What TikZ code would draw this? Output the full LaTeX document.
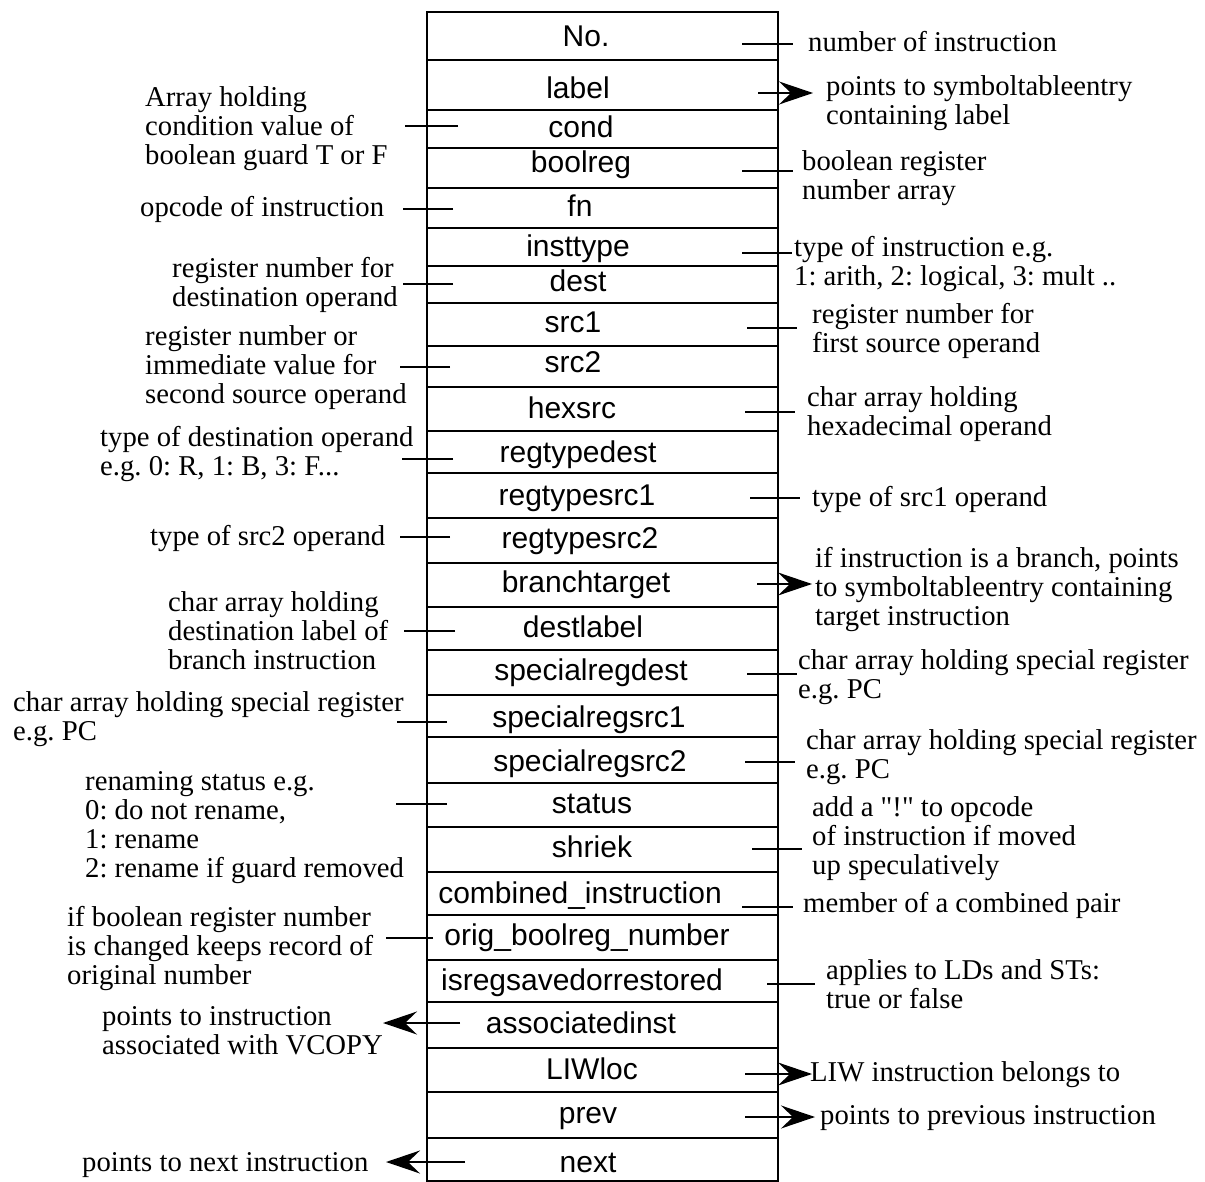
\documentclass[tikz,border=0pt]{standalone}
\usepackage{fontspec}
\setmainfont{Liberation Serif}
\newfontfamily\rawserif{Liberation Serif}[Ligatures=TeXOff]
\newfontfamily\fieldfont{Liberation Sans}
\usetikzlibrary{arrows.meta}
\begin{document}
\frenchspacing
\begin{tikzpicture}[x=1pt,y=-1pt,
  field/.style={font=\fieldfont\fontsize{30}{34}\selectfont, inner sep=0pt, anchor=base},
  note/.style={font=\fontsize{28.7}{29}\selectfont\frenchspacing, align=left, inner sep=0pt, anchor=north west},
  boxline/.style={line width=2pt},
  conn/.style={line width=2pt},
  ptr/.style={line width=2pt, -{Stealth[length=34pt,width=23pt,inset=12pt]}}
]
\useasboundingbox (0,0) rectangle (1205,1182);

% record layout: outer frame and row separators
\draw[boxline] (427,12) rectangle (778,1181);
\foreach \y in {60,110,148,188,228,266,303,346,387,431,473,518,563,607,650,
                695,737,783,827,872,915,960,1002,1048,1092,1138}
  \draw[boxline] (427,\y) -- (778,\y);

% field names
\node[field] (fNo)        at (586,47)   {No.};
\node[field] (fLabel)     at (578,99)   {label};
\node[field] (fCond)      at (581,138)  {cond};
\node[field] (fBoolreg)   at (581,173)  {boolreg};
\node[field] (fFn)        at (580,217)  {fn};
\node[field] (fInsttype)  at (578,257)  {insttype};
\node[field] (fDest)      at (578,292)  {dest};
\node[field] (fSrcA)      at (573,333)  {src1};
\node[field] (fSrcB)      at (573,373)  {src2};
\node[field] (fHexsrc)    at (572,418)  {hexsrc};
\node[field] (fRtDest)    at (578,462)  {regtypedest};
\node[field] (fRtSrcA)    at (577,505)  {regtypesrc1};
\node[field] (fRtSrcB)    at (580,548)  {regtypesrc2};
\node[field] (fBranch)    at (586,592)  {branchtarget};
\node[field] (fDestlabel) at (583,637)  {destlabel};
\node[field] (fSpDest)    at (591,680)  {specialregdest};
\node[field] (fSpSrcA)    at (589,727)  {specialregsrc1};
\node[field] (fSpSrcB)    at (590,771)  {specialregsrc2};
\node[field] (fStatus)    at (592,813)  {status};
\node[field] (fShriek)    at (592,857)  {shriek};
\node[field] (fCombined)  at (580,903)  {combined\_instruction};
\node[field] (fOrig)      at (587,945)  {orig\_boolreg\_number};
\node[field] (fIsreg)     at (582,990)  {isregsavedorrestored};
\node[field] (fAssoc)     at (581,1033) {associatedinst};
\node[field] (fLiw)       at (592,1079) {LIWloc};
\node[field] (fPrev)      at (588,1123) {prev};
\node[field] (fNext)      at (588,1172) {next};

% descriptions, right-hand side
\node[note] (nNo)        at (808,31)   {\strut number of instruction};
\node[note] (nLabel)     at (826,75)   {\strut points to symboltableentry\\containing label};
\node[note] (nBoolreg)   at (802,150)  {\strut boolean register\\number array};
\node[note] (nInsttype)  at (794,236)  {\strut type of instruction e.g.\\1: arith, 2: logical, 3: mult ..};
\node[note] (nSrcA)      at (812,303)  {\strut register number for\\first source operand};
\node[note] (nHexsrc)    at (807,386)  {\strut char array holding\\hexadecimal operand};
\node[note] (nRtSrcA)    at (812,486)  {\strut type of src1 operand};
\node[note] (nBranch)    at (815,547)  {\strut if instruction is a branch, points\\to symboltableentry containing\\target instruction};
\node[note] (nSpDest)    at (798,649)  {\strut char array holding special register\\e.g. PC};
\node[note] (nSpSrcB)    at (806,729)  {\strut char array holding special register\\e.g. PC};
\node[note] (nShriek)    at (812,796)  {\strut add a {\rawserif"!"} to opcode\\of instruction if moved\\up speculatively};
\node[note] (nCombined)  at (803,892)  {\strut member of a combined pair};
\node[note] (nIsreg)     at (826,959)  {\strut applies to LDs and STs:\\true or false};
\node[note] (nLiw)       at (810,1061) {\strut LIW instruction belongs to};
\node[note] (nPrev)      at (820,1104) {\strut points to previous instruction};

% descriptions, left-hand side
\node[note] (nCond)      at (145,86)   {\strut Array holding\\condition value of\\boolean guard T or F};
\node[note] (nFn)        at (140,196)  {\strut opcode of instruction};
\node[note] (nDest)      at (172,257)  {\strut register number for\\destination operand};
\node[note] (nSrcB)      at (145,325)  {\strut register number or\\immediate value for\\second source operand};
\node[note] (nRtDest)    at (100,426)  {\strut type of destination operand\\e.g. 0: R, 1: B, 3: F...};
\node[note] (nRtSrcB)    at (150,525)  {\strut type of src2 operand};
\node[note] (nDestlabel) at (168,591)  {\strut char array holding\\destination label of\\branch instruction};
\node[note] (nSpSrcA)    at (13,691)   {\strut char array holding special register\\e.g. PC};
\node[note] (nStatus)    at (85,770)   {\strut renaming status e.g.\\0: do not rename,\\1: rename\\2: rename if guard removed};
\node[note] (nOrig)      at (67,906)   {\strut if boolean register number\\is changed keeps record of\\original number};
\node[note] (nAssoc)     at (102,1005) {\strut points to instruction\\associated with VCOPY};
\node[note] (nNext)      at (82,1151)  {\strut points to next instruction};

% plain leader lines: name / start x / end x / y
\foreach \n/\xa/\xb/\yy in {
    No/742/793/44, Boolreg/742/793/171, Insttype/742/792/253,
    SrcA/747/797/328, Hexsrc/745/795/412, RtSrcA/750/800/498,
    SpDest/747/797/674, SpSrcB/745/795/762, Shriek/752/802/849,
    Combined/742/793/907, Isreg/767/815/984,
    Cond/458/405/126, Fn/453/403/209, Dest/453/403/284,
    SrcB/450/400/367, RtDest/453/402/459, RtSrcB/450/400/537,
    Destlabel/455/404/631, SpSrcA/447/397/722, Status/447/396/804,
    Orig/433/386/938} {
  \coordinate (\n-in) at (\xa,\yy);
  \coordinate (\n-out) at (\xb,\yy);
  \draw[conn] (\n-in) -- (\n-out);
}

% pointer fields
\foreach \n/\xa/\xb/\yy in {
    Label/758/813/93, Branch/757/812/584, Liw/745/812/1074,
    Prev/745/815/1117, Assoc/460/383/1023, Next/465/386/1162} {
  \coordinate (\n-in) at (\xa,\yy);
  \coordinate (\n-out) at (\xb,\yy);
  \draw[ptr] (\n-in) -- (\n-out);
}
\end{tikzpicture}
\end{document}
